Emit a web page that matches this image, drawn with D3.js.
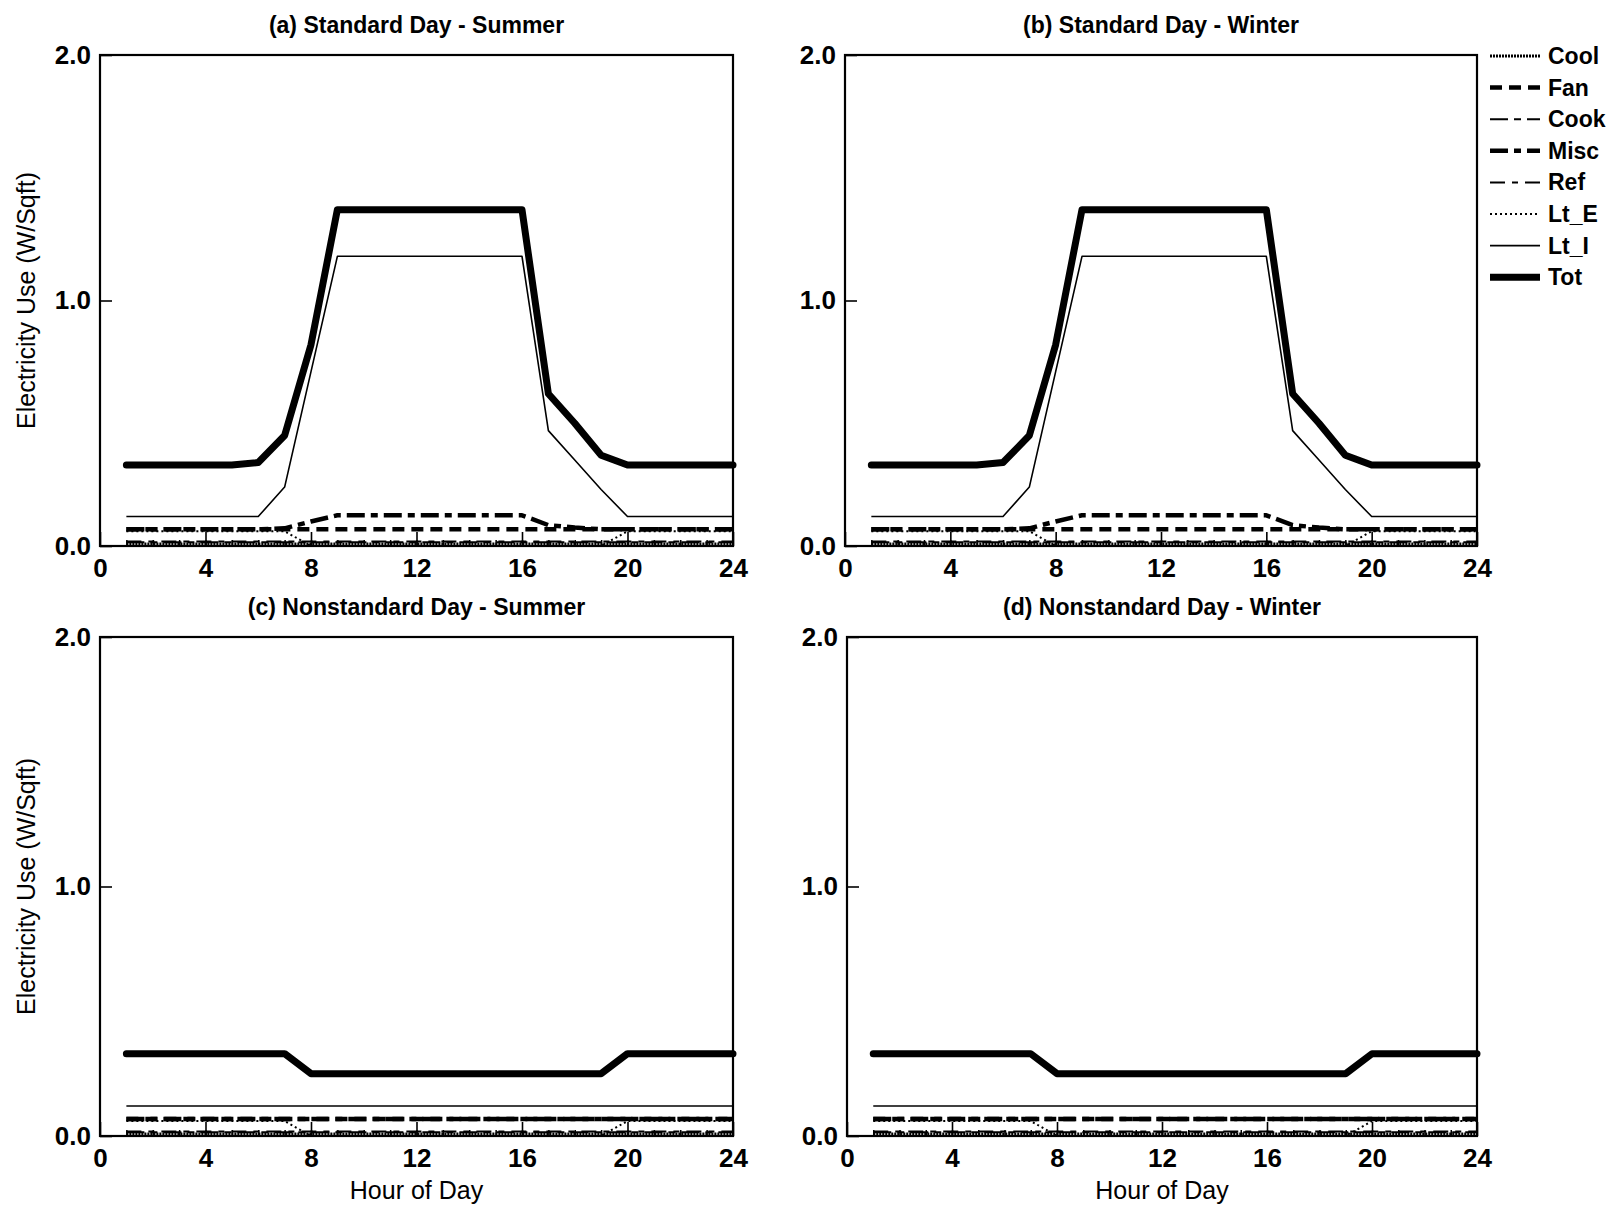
<!DOCTYPE html>
<html><head><meta charset="utf-8">
<script src="https://cdn.jsdelivr.net/npm/d3@7"></script>
<style>
body{margin:0;background:#fff;}
text{font-family:"Liberation Sans",Arial,Helvetica,sans-serif;fill:#000;}
</style></head>
<body><svg id="c" width="1615" height="1212"></svg>
<script>
// ---- data ----
const hours = d3.range(1, 25);
const seriesNames = ["Cool","Fan","Cook","Misc","Ref","Lt_E","Lt_I","Tot"];
const drawOrder = ["Cool","Lt_E","Cook","Ref","Misc","Fan","Lt_I","Tot"];
const panelTitles = ["(a) Standard Day - Summer","(b) Standard Day - Winter","(c) Nonstandard Day - Summer","(d) Nonstandard Day - Winter"];
const xTickLabels = [0,4,8,12,16,20,24];
const yTickLabels = [0,1,2];

// Standard day (same profile read for summer and winter)
const stdCool = [0.008,0.008,0.008,0.008,0.008,0.008,0.008,0.008,0.008,0.008,0.008,0.008,0.008,0.008,0.008,0.008,0.008,0.008,0.008,0.008,0.008,0.008,0.008,0.008];
const stdFan  = [0.068,0.068,0.068,0.068,0.068,0.068,0.068,0.068,0.068,0.068,0.068,0.068,0.068,0.068,0.068,0.068,0.068,0.068,0.068,0.068,0.068,0.068,0.068,0.068];
const stdCook = [0.015,0.015,0.015,0.015,0.015,0.015,0.015,0.015,0.015,0.015,0.015,0.015,0.015,0.015,0.015,0.015,0.015,0.015,0.015,0.015,0.015,0.015,0.015,0.015];
const stdMisc = [0.068,0.068,0.068,0.068,0.068,0.068,0.072,0.1,0.125,0.125,0.125,0.125,0.125,0.125,0.125,0.125,0.085,0.075,0.068,0.068,0.068,0.068,0.068,0.068];
const stdRef  = [0.018,0.018,0.018,0.018,0.018,0.018,0.018,0.018,0.018,0.018,0.018,0.018,0.018,0.018,0.018,0.018,0.018,0.018,0.018,0.018,0.018,0.018,0.018,0.018];
const stdLtE  = [0.06,0.06,0.06,0.06,0.06,0.06,0.06,0.0,0.0,0.0,0.0,0.0,0.0,0.0,0.0,0.0,0.0,0.0,0.0,0.06,0.06,0.06,0.06,0.06];
const stdLtI  = [0.12,0.12,0.12,0.12,0.12,0.12,0.24,0.71,1.18,1.18,1.18,1.18,1.18,1.18,1.18,1.18,0.47,0.35,0.23,0.12,0.12,0.12,0.12,0.12];
const stdTot  = [0.33,0.33,0.33,0.33,0.33,0.34,0.45,0.82,1.37,1.37,1.37,1.37,1.37,1.37,1.37,1.37,0.62,0.50,0.37,0.33,0.33,0.33,0.33,0.33];

// Nonstandard day
const nonCool = [0.008,0.008,0.008,0.008,0.008,0.008,0.008,0.008,0.008,0.008,0.008,0.008,0.008,0.008,0.008,0.008,0.008,0.008,0.008,0.008,0.008,0.008,0.008,0.008];
const nonFan  = [0.068,0.068,0.068,0.068,0.068,0.068,0.068,0.068,0.068,0.068,0.068,0.068,0.068,0.068,0.068,0.068,0.068,0.068,0.068,0.068,0.068,0.068,0.068,0.068];
const nonCook = [0.015,0.015,0.015,0.015,0.015,0.015,0.015,0.015,0.015,0.015,0.015,0.015,0.015,0.015,0.015,0.015,0.015,0.015,0.015,0.015,0.015,0.015,0.015,0.015];
const nonMisc = [0.068,0.068,0.068,0.068,0.068,0.068,0.068,0.068,0.068,0.068,0.068,0.068,0.068,0.068,0.068,0.068,0.068,0.068,0.068,0.068,0.068,0.068,0.068,0.068];
const nonRef  = [0.018,0.018,0.018,0.018,0.018,0.018,0.018,0.018,0.018,0.018,0.018,0.018,0.018,0.018,0.018,0.018,0.018,0.018,0.018,0.018,0.018,0.018,0.018,0.018];
const nonLtE  = [0.06,0.06,0.06,0.06,0.06,0.06,0.06,0.0,0.0,0.0,0.0,0.0,0.0,0.0,0.0,0.0,0.0,0.0,0.0,0.06,0.06,0.06,0.06,0.06];
const nonLtI  = [0.12,0.12,0.12,0.12,0.12,0.12,0.12,0.12,0.12,0.12,0.12,0.12,0.12,0.12,0.12,0.12,0.12,0.12,0.12,0.12,0.12,0.12,0.12,0.12];
const nonTot  = [0.33,0.33,0.33,0.33,0.33,0.33,0.33,0.25,0.25,0.25,0.25,0.25,0.25,0.25,0.25,0.25,0.25,0.25,0.25,0.33,0.33,0.33,0.33,0.33];

const stdDay = {Cool:stdCool,Fan:stdFan,Cook:stdCook,Misc:stdMisc,Ref:stdRef,Lt_E:stdLtE,Lt_I:stdLtI,Tot:stdTot};
const nonDay = {Cool:nonCool,Fan:nonFan,Cook:nonCook,Misc:nonMisc,Ref:nonRef,Lt_E:nonLtE,Lt_I:nonLtI,Tot:nonTot};
const panelData = [stdDay, stdDay, nonDay, nonDay];

// ---- styles ----
const styles = {
  Cool:{w:3, dash:"2,1"},
  Fan: {w:4.5, dash:"12,7"},
  Cook:{w:2, dash:"18,6,7,6"},
  Misc:{w:4.5, dash:"18,6,7,6"},
  Ref: {w:2, dash:"15,7,6,7"},
  Lt_E:{w:2, dash:"2,3"},
  Lt_I:{w:1.6, dash:null},
  Tot: {w:7, dash:null}
};

const panels = [
  {x0:100,x1:733,y0:55,y1:546},
  {x0:845,x1:1477,y0:55,y1:546},
  {x0:100,x1:733,y0:637,y1:1136},
  {x0:847,x1:1477,y0:637,y1:1136}
];

const svg = d3.select("#c");

panels.forEach((p,i)=>{
  const x = d3.scaleLinear().domain([0,24]).range([p.x0,p.x1]);
  const y = d3.scaleLinear().domain([0,2]).range([p.y1,p.y0]);
  const g = svg.append("g");

  // series
  const line = d3.line().x((d,k)=>x(hours[k])).y(d=>y(d));
  drawOrder.forEach(name=>{
    const st = styles[name];
    g.append("path").attr("d", line(panelData[i][name])).attr("fill","none").attr("stroke","#000")
      .attr("stroke-width", st.w).attr("stroke-dasharray", st.dash)
      .attr("stroke-linejoin","round").attr("stroke-linecap", name==="Tot"?"round":"butt");
  });

  // minor x ticks (every hour, pointing up)
  const minor = d3.axisBottom(x).tickValues(d3.range(1,24)).tickSize(-6).tickFormat("");
  g.append("g").attr("transform",`translate(0,${p.y1})`).call(minor)
    .call(a=>a.select(".domain").remove())
    .selectAll("line").attr("stroke","#000").attr("stroke-width",1.5);
  // major x ticks
  const major = d3.axisBottom(x).tickValues(xTickLabels).tickSize(-14).tickPadding(31).tickFormat(d3.format("d"));
  const gx = g.append("g").attr("transform",`translate(0,${p.y1})`).call(major);
  gx.select(".domain").remove();
  gx.selectAll("line").attr("stroke","#000").attr("stroke-width",1.6);
  gx.selectAll("text").attr("font-size",26).attr("font-weight","bold").attr("dy","0");
  // y ticks
  const ya = d3.axisLeft(y).tickValues(yTickLabels).tickSize(-12).tickPadding(9).tickFormat(d3.format(".1f"));
  const gy = g.append("g").attr("transform",`translate(${p.x0},0)`).call(ya);
  gy.select(".domain").remove();
  gy.selectAll("line").attr("stroke","#000").attr("stroke-width",1.6);
  gy.selectAll("text").attr("font-size",26).attr("font-weight","bold");

  // frame
  g.append("rect").attr("x",p.x0).attr("y",p.y0).attr("width",p.x1-p.x0).attr("height",p.y1-p.y0)
    .attr("fill","none").attr("stroke","#000").attr("stroke-width",2.2);

  // title
  g.append("text").attr("x",(p.x0+p.x1)/2).attr("y",p.y0-22).attr("text-anchor","middle")
    .attr("font-size",23).attr("font-weight","bold").text(panelTitles[i]);

  // y label
  if(i%2===0){
    g.append("text").attr("transform",`translate(35,${(p.y0+p.y1)/2}) rotate(-90)`)
      .attr("text-anchor","middle").attr("font-size",25).text("Electricity Use (W/Sqft)");
  }
  // x label
  if(i>=2){
    g.append("text").attr("x",(p.x0+p.x1)/2).attr("y",1199).attr("text-anchor","middle")
      .attr("font-size",25).text("Hour of Day");
  }
});

// legend
const lg = svg.append("g");
seriesNames.forEach((n,k)=>{
  const yy = 56 + k*31.6;
  const st = styles[n];
  lg.append("line").attr("x1",1490).attr("x2",1540).attr("y1",yy).attr("y2",yy)
    .attr("stroke","#000").attr("stroke-width",st.w).attr("stroke-dasharray",st.dash);
  lg.append("text").attr("x",1548).attr("y",yy+8).attr("font-size",23).attr("font-weight","bold").text(n);
});
</script></body></html>
